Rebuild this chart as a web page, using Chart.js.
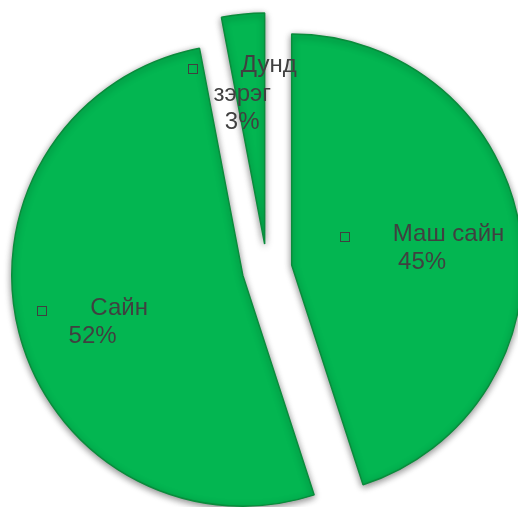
<!DOCTYPE html>
<html>
<head>
  <meta charset="utf-8">
  <title>Pie</title>
  <script src="https://cdn.jsdelivr.net/npm/chart.js"></script>
  <style>
    html, body { margin: 0; padding: 0; background: #fff; }
    #wrap { width: 518px; height: 507px; }
  </style>
</head>
<body>
  <div id="wrap"><canvas id="myChart" width="518" height="507"></canvas></div>

  <script>
    // data
    var categories = ['Маш сайн', 'Сайн', 'Дунд зэрэг'];
    var labelLines = [['Маш сайн'], ['Сайн'], ['Дунд', 'зэрэг']];
    var values = [45, 52, 3];

    // styling
    var sliceColor = '#03b651';
    var edgeColor = '#0a8c3c';
    var textColor = '#404040';
    var explodeDist = 25;
    var labelRadius = [0.567, 0.68, 0.665];
    var labelNudgeX = [1, 2, -8];
    var labelNudgeY = [4, 8, 3];

    var total = values.reduce(function (a, b) { return a + b; }, 0);

    // pulls every slice out from the centre (like Excel's pie explosion)
    var explodePlugin = {
      id: 'explode',
      beforeDatasetsDraw: function (chart) {
        var meta = chart.getDatasetMeta(0);
        var ctrl = meta.controller;
        var a = chart.chartArea;
        var cx = (a.left + a.right) / 2 + ctrl.offsetX;
        var cy = (a.top + a.bottom) / 2 + ctrl.offsetY;
        meta.data.forEach(function (arc) {
          var mid = (arc.startAngle + arc.endAngle) / 2;
          arc.x = cx + Math.cos(mid) * explodeDist;
          arc.y = cy + Math.sin(mid) * explodeDist;
        });
      },
      beforeDatasetDraw: function (chart) {
        var ctx = chart.ctx;
        ctx.save();
        ctx.shadowColor = 'rgba(0,0,0,0.45)';
        ctx.shadowBlur = 7;
        ctx.shadowOffsetX = 0;
        ctx.shadowOffsetY = 2;
      },
      afterDatasetDraw: function (chart) {
        chart.ctx.restore();
      }
    };

    // data labels: legend key square + category + percent
    var labelPlugin = {
      id: 'sliceLabels',
      afterDatasetsDraw: function (chart) {
        var ctx = chart.ctx;
        var meta = chart.getDatasetMeta(0);
        ctx.save();
        ctx.font = '24px "Liberation Sans", Arial, sans-serif';
        ctx.fillStyle = textColor;
        ctx.strokeStyle = textColor;
        ctx.lineWidth = 1;
        ctx.textBaseline = 'middle';
        var lineH = 28.5;
        meta.data.forEach(function (arc, i) {
          var mid = (arc.startAngle + arc.endAngle) / 2;
          var r = arc.outerRadius * labelRadius[i];
          var x = arc.x + Math.cos(mid) * r + labelNudgeX[i];
          var y = arc.y + Math.sin(mid) * r + labelNudgeY[i];
          var lines = labelLines[i].concat([Math.round(values[i] / total * 100) + '%']);
          var y0 = y - (lines.length - 1) * lineH / 2;
          lines.forEach(function (txt, k) {
            var ly = y0 + k * lineH;
            if (k === 0) {
              var tw = ctx.measureText(txt).width;
              var w = 9 + 44 + tw;
              var left = x - w / 2;
              ctx.strokeRect(Math.round(left) + 0.5, Math.round(ly - 2) + 0.5, 9, 9);
              ctx.textAlign = 'left';
              ctx.fillText(txt, left + 53, ly);
            } else {
              ctx.textAlign = 'center';
              ctx.fillText(txt, x, ly);
            }
          });
        });
        ctx.restore();
      }
    };

    var ctx = document.getElementById('myChart').getContext('2d');
    var myChart = new Chart(ctx, {
      type: 'pie',
      data: {
        labels: categories,
        datasets: [{
          data: values,
          backgroundColor: sliceColor,
          borderColor: edgeColor,
          borderWidth: 1.5,
          clip: false
        }]
      },
      options: {
        responsive: false,
        animation: false,
        events: [],
        radius: 231,
        layout: { padding: { left: 16, top: 31, right: 0, bottom: 0 } },
        plugins: {
          legend: { display: false },
          tooltip: { enabled: false }
        }
      },
      plugins: [explodePlugin, labelPlugin]
    });
  </script>
</body>
</html>
